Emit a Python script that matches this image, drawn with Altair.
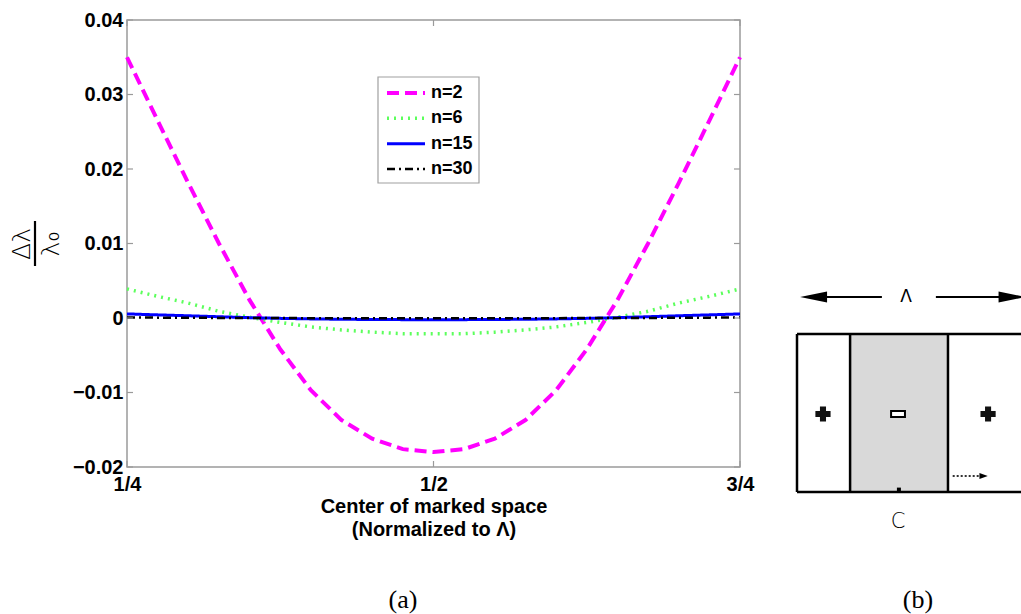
import altair as alt
import pandas as pd

# ---------------- data ----------------
x_pos = [0.25, 0.275, 0.30, 0.325, 0.35, 0.375, 0.40, 0.425, 0.45, 0.475, 0.50,
         0.525, 0.55, 0.575, 0.60, 0.625, 0.65, 0.675, 0.70, 0.725, 0.75]
n2_vals = [0.0350, 0.0265, 0.0181, 0.0100, 0.0024, -0.0042, -0.0097, -0.0137, -0.0162, -0.0176, -0.0180,
           -0.0176, -0.0162, -0.0137, -0.0097, -0.0042, 0.0024, 0.0100, 0.0181, 0.0265, 0.0350]
n6_vals = [0.0039, 0.0029, 0.0020, 0.0009, 0.0001, -0.0006, -0.0012, -0.0016, -0.0019, -0.0021, -0.0021,
           -0.0021, -0.0019, -0.0016, -0.0012, -0.0006, 0.0001, 0.0009, 0.0020, 0.0029, 0.0039]
n15_vals = [0.00055, 0.00042, 0.00030, 0.00017, 0.00005, -0.00005, -0.00012, -0.00017, -0.00020, -0.00022, -0.00022,
            -0.00022, -0.00020, -0.00017, -0.00012, -0.00005, 0.00005, 0.00017, 0.00030, 0.00042, 0.00055]
n30_vals = [0.00008, 0.00005, 0.00003, 0.00001, 0.0, -0.00001, -0.00002, -0.00003, -0.00003, -0.00003, -0.00003,
            -0.00003, -0.00003, -0.00003, -0.00002, -0.00001, 0.0, 0.00001, 0.00003, 0.00005, 0.00008]

series_names = ["n=2", "n=6", "n=15", "n=30"]
series_colors = ["#ff00ff", "#5cff5c", "#0000ff", "#000000"]
series_dash = [[12, 6], [2, 5], [1, 0], [8, 4, 2, 4]]
series_width = [4.0, 2.5, 4.0, 3.5]

y_ticks = [-0.02, -0.01, 0.0, 0.01, 0.02, 0.03, 0.04]
y_tick_labels = ["\u22120.02", "\u22120.01", "0", "0.01", "0.02", "0.03", "0.04"]
x_ticks = [0.25, 0.5, 0.75]
x_tick_labels = ["1/4", "1/2", "3/4"]

# panel (b) schematic geometry (diagram units)
b_fill = pd.DataFrame({"x": [23.7], "x2": [67.4], "y": [0.0], "y2": [79.0]})
b_lines = pd.DataFrame({
    "x":  [0.0, 0.0, 0.0, 23.7, 67.4],
    "x2": [103.0, 103.0, 0.0, 23.7, 67.4],
    "y":  [0.0, 79.0, 0.0, 0.0, 0.0],
    "y2": [0.0, 79.0, 79.0, 79.0, 79.0],
})
b_plus = pd.DataFrame({"x": [11.6, 85.3], "y": [39.0, 39.0]})
b_minus = pd.DataFrame({"x": [42.0], "x2": [48.2], "y": [37.5], "y2": [40.5]})
b_arrow_lines = pd.DataFrame({"x": [4.0, 62.0], "x2": [37.9, 100.0], "y": [97.5, 97.5]})
b_head_left = pd.DataFrame({"x": [7.4], "y": [97.5]})
b_head_right = pd.DataFrame({"x": [96.0], "y": [97.5]})
b_dot_line = pd.DataFrame({"x": [69.5], "x2": [82.0], "y": [8.0]})
b_dot_head = pd.DataFrame({"x": [83.3], "y": [8.0]})
b_mark = pd.DataFrame({"x": [45.5], "y": [1.2]})
b_lambda = pd.DataFrame({"x": [48.7], "y": [97.5], "t": ["\u039b"]})
b_c = pd.DataFrame({"x": [45.1], "y": [-15.0], "t": ["C"]})
b_label = pd.DataFrame({"x": [54.0], "y": [-54.0], "t": ["(b)"]})

# ---------------- panel (a) ----------------
rows = []
for name, vals in zip(series_names, [n2_vals, n6_vals, n15_vals, n30_vals]):
    for xv, yv in zip(x_pos, vals):
        rows.append({"x": xv, "y": yv, "series": name})
df = pd.DataFrame(rows)

FONT = "Liberation Sans"
GREY = "#9a9a9a"
W, H = 613, 447


def label_expr(values, labels):
    parts = [f"abs(datum.value - ({v})) < 1e-9 ? '{l}'" for v, l in zip(values, labels)]
    return " : ".join(parts) + " : ''"


xs = alt.Scale(domain=[0.25, 0.75], nice=False, zero=False)
ys = alt.Scale(domain=[-0.02, 0.04], nice=False, zero=False)

color_sc = alt.Scale(domain=series_names, range=series_colors)
dash_sc = alt.Scale(domain=series_names, range=series_dash)
width_sc = alt.Scale(domain=series_names, range=series_width)

lines = alt.Chart(df).mark_line(strokeCap="butt").encode(
    x=alt.X("x:Q", scale=xs, axis=alt.Axis(
        values=x_ticks, labelExpr=label_expr(x_ticks, x_tick_labels),
        domain=False, ticks=False, grid=False, labelFlush=False, labelOverlap=False,
        labelFont=FONT, labelFontSize=20, labelFontWeight="bold", labelColor="black",
        labelPadding=7,
        title=["Center of marked space", "(Normalized to \u039b)"],
        titleFont=FONT, titleFontSize=20, titleFontWeight="bold", titleColor="black",
        titlePadding=2, titleLineHeight=23)),
    y=alt.Y("y:Q", scale=ys, axis=alt.Axis(
        values=y_ticks, labelExpr=label_expr(y_ticks, y_tick_labels),
        domain=False, ticks=False, grid=False, labelFlush=False, labelOverlap=False,
        labelFont=FONT, labelFontSize=20, labelFontWeight="bold", labelColor="black",
        labelPadding=4, title=None)),
    color=alt.Color("series:N", scale=color_sc, legend=None),
    strokeDash=alt.StrokeDash("series:N", scale=dash_sc, legend=None),
    strokeWidth=alt.StrokeWidth("series:N", scale=width_sc, legend=None),
    detail="series:N",
)

ytick_df = pd.DataFrame({"v": y_ticks})
xtick_df = pd.DataFrame({"v": x_ticks})
tick_left = alt.Chart(ytick_df).mark_rule(color=GREY, strokeWidth=1.2).encode(
    y=alt.Y("v:Q", scale=ys), x=alt.value(0), x2=alt.value(6))
tick_right = alt.Chart(ytick_df).mark_rule(color=GREY, strokeWidth=1.2).encode(
    y=alt.Y("v:Q", scale=ys), x=alt.value(W), x2=alt.value(W - 6))
tick_bottom = alt.Chart(xtick_df).mark_rule(color=GREY, strokeWidth=1.2).encode(
    x=alt.X("v:Q", scale=xs), y=alt.value(H), y2=alt.value(H - 6))
tick_top = alt.Chart(xtick_df).mark_rule(color=GREY, strokeWidth=1.2).encode(
    x=alt.X("v:Q", scale=xs), y=alt.value(0), y2=alt.value(6))

num = alt.Chart(pd.DataFrame({"t": ["\u0394\u03bb"]})).mark_text(
    angle=270, font="DejaVu Sans", fontSize=25, fontWeight=300, align="center", baseline="middle", color="black"
).encode(text="t:N", x=alt.value(-105), y=alt.value(224))
den = alt.Chart(pd.DataFrame({"t": ["\u03bb\u2080"]})).mark_text(
    angle=270, font="DejaVu Sans", fontSize=25, fontWeight=300, align="center", baseline="middle", color="black"
).encode(text="t:N", x=alt.value(-76), y=alt.value(224))
bar = alt.Chart(pd.DataFrame({"t": ["bar"]})).mark_rule(color="black", strokeWidth=2.2).encode(
    x=alt.value(-92), y=alt.value(201), y2=alt.value(246))
a_label = alt.Chart(pd.DataFrame({"t": ["(a)"]})).mark_text(
    font="Liberation Serif", fontSize=26, align="center", baseline="middle", color="black"
).encode(text="t:N", x=alt.value(276), y=alt.value(580))

panel_a = alt.layer(lines, tick_left, tick_right, tick_bottom, tick_top, num, den, bar, a_label)

# ---------------- legend (manual, MATLAB style) ----------------
leg_df = pd.DataFrame({"series": series_names})
leg_y = alt.Scale(type="point", domain=series_names, range=[73, 149], padding=0)
leg_box = alt.Chart(pd.DataFrame({"t": ["box"]})).mark_rect(
    fill="white", stroke="#a0a0a0", strokeWidth=1.2
).encode(x=alt.value(251), x2=alt.value(352), y=alt.value(57), y2=alt.value(163))
leg_lines = alt.Chart(leg_df).mark_rule(strokeCap="butt").encode(
    y=alt.Y("series:N", scale=leg_y, axis=None),
    x=alt.value(260), x2=alt.value(298),
    color=alt.Color("series:N", scale=color_sc, legend=None),
    strokeDash=alt.StrokeDash("series:N", scale=dash_sc, legend=None),
    strokeWidth=alt.StrokeWidth("series:N", scale=width_sc, legend=None),
)
leg_text = alt.Chart(leg_df).mark_text(
    font=FONT, fontSize=18, fontWeight="bold", align="left", baseline="middle", color="black"
).encode(y=alt.Y("series:N", scale=leg_y, axis=None), x=alt.value(304), text="series:N")
legend = alt.layer(leg_box, leg_lines, leg_text)

# ---------------- panel (b) schematic ----------------
bx = alt.Scale(domain=[0, 100], range=[670, 894], nice=False, zero=False)
by = alt.Scale(domain=[0, 100], range=[472, 272], nice=False, zero=False)


def BX(f):
    return alt.X(f, type="quantitative", scale=bx, axis=None)


def BY(f):
    return alt.Y(f, type="quantitative", scale=by, axis=None)


b1 = alt.Chart(b_fill).mark_rect(fill="#d9d9d9").encode(
    x=BX("x"), x2="x2:Q", y=BY("y"), y2="y2:Q")
b2 = alt.Chart(b_lines).mark_rule(color="black", strokeWidth=2.5).encode(
    x=BX("x"), x2="x2:Q", y=BY("y"), y2="y2:Q")
b3 = alt.Chart(b_plus).mark_point(shape="cross", filled=True, color="#111111", size=230, opacity=1).encode(
    x=BX("x"), y=BY("y"))
b4 = alt.Chart(b_minus).mark_rect(fill="white", stroke="black", strokeWidth=2).encode(
    x=BX("x"), x2="x2:Q", y=BY("y"), y2="y2:Q")
b5 = alt.Chart(b_arrow_lines).mark_rule(color="black", strokeWidth=2.2).encode(
    x=BX("x"), x2="x2:Q", y=BY("y"))
b6 = alt.Chart(b_head_left).mark_point(
    shape="M-1,0L1,-0.4L1,0.4Z", filled=True, color="black", size=729, opacity=1
).encode(x=BX("x"), y=BY("y"))
b7 = alt.Chart(b_head_right).mark_point(
    shape="M1,0L-1,-0.4L-1,0.4Z", filled=True, color="black", size=729, opacity=1
).encode(x=BX("x"), y=BY("y"))
b8 = alt.Chart(b_dot_line).mark_rule(color="#333333", strokeWidth=1.8, strokeDash=[2, 2]).encode(
    x=BX("x"), x2="x2:Q", y=BY("y"))
b9 = alt.Chart(b_dot_head).mark_point(
    shape="M1,0L-1,-0.7L-1,0.7Z", filled=True, color="black", size=70, opacity=1
).encode(x=BX("x"), y=BY("y"))
b10 = alt.Chart(b_mark).mark_point(shape="square", filled=True, color="black", size=16, opacity=1).encode(
    x=BX("x"), y=BY("y"))
b11 = alt.Chart(b_lambda).mark_text(
    font="DejaVu Sans", fontSize=17, fontWeight="normal", align="center", baseline="middle", color="black"
).encode(x=BX("x"), y=BY("y"), text="t:N")
b11c = alt.Chart(b_c).mark_text(
    font="DejaVu Sans", fontSize=21, fontWeight=300, align="center", baseline="middle", color="black"
).encode(x=BX("x"), y=BY("y"), text="t:N")
b12 = alt.Chart(b_label).mark_text(
    font="Liberation Serif", fontSize=26, align="center", baseline="middle", color="black"
).encode(x=BX("x"), y=BY("y"), text="t:N")
panel_b = alt.layer(b1, b2, b3, b4, b5, b6, b7, b8, b9, b10, b11, b11c, b12)

chart = alt.layer(panel_a, legend, panel_b).resolve_scale(
    x="independent", y="independent"
).properties(
    width=W, height=H,
    autosize=alt.AutoSizeParams(type="none"),
    padding={"left": 127, "top": 20, "right": 281, "bottom": 147},
    background="white",
).configure_view(stroke=GREY, strokeWidth=1.5)

chart.save("out.html", embed_options={"renderer": "svg", "actions": False})
